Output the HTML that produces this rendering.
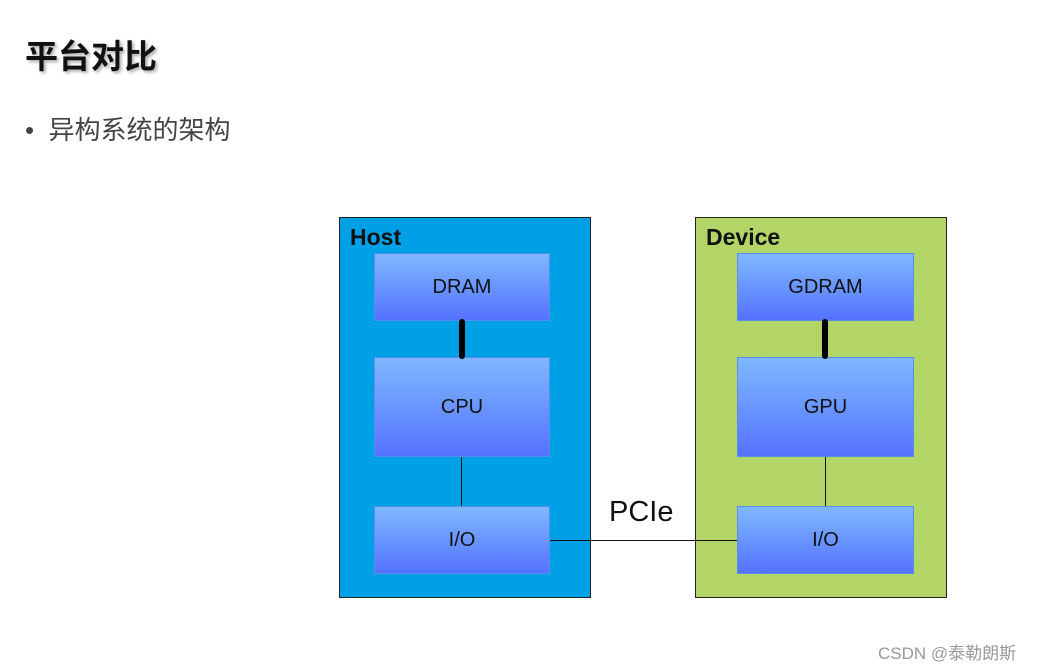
<!DOCTYPE html>
<html><head><meta charset="utf-8"><style>
body{margin:0;width:1045px;height:668px;background:#fff;position:relative;overflow:hidden;font-family:"Liberation Sans","Noto Sans CJK SC",sans-serif}
.a{position:absolute}
.box{position:absolute;border:1.5px solid #222;box-sizing:border-box}
.in{position:absolute;background:linear-gradient(#7fb8ff,#5472ff);border:1px solid #5a8cf0;box-sizing:border-box;display:flex;align-items:center;justify-content:center;font-size:20px;color:#111}
.lbl{position:absolute;font-weight:bold;font-size:23px;color:#111}
</style></head><body>
<div class="a" style="left:25px;top:30px;font-size:33px;font-weight:bold;color:#111;text-shadow:2px 2px 3px #aaa">平台对比</div>
<div class="a" style="left:25px;top:110px;font-size:26px;color:#444">•&nbsp; 异构系统的架构</div>

<div class="box" style="left:339px;top:217px;width:252px;height:381px;background:#00a0e6"></div>
<div class="lbl" style="left:350px;top:224px">Host</div>
<div class="box" style="left:695px;top:217px;width:252px;height:381px;background:#b3d567"></div>
<div class="lbl" style="left:706px;top:224px">Device</div>

<div class="in" style="left:374px;top:253px;width:176px;height:68px">DRAM</div>
<div class="in" style="left:374px;top:357px;width:176px;height:100px">CPU</div>
<div class="in" style="left:374px;top:506px;width:176px;height:68px">I/O</div>
<div class="in" style="left:737px;top:253px;width:177px;height:68px">GDRAM</div>
<div class="in" style="left:737px;top:357px;width:177px;height:100px">GPU</div>
<div class="in" style="left:737px;top:506px;width:177px;height:68px">I/O</div>

<div class="a" style="left:459px;top:319px;width:6px;height:40px;background:#000;border-radius:3px"></div>
<div class="a" style="left:822px;top:319px;width:6px;height:40px;background:#000;border-radius:3px"></div>
<div class="a" style="left:461px;top:457px;width:1px;height:49px;background:#111"></div>
<div class="a" style="left:825px;top:457px;width:1px;height:49px;background:#111"></div>
<div class="a" style="left:550px;top:540px;width:187px;height:1px;background:#111"></div>
<div class="a" style="left:609px;top:496px;font-size:29px;color:#111">PCIe</div>

<div class="a" style="left:878px;top:639px;font-size:17px;color:#999">CSDN @泰勒朗斯</div>
</body></html>
